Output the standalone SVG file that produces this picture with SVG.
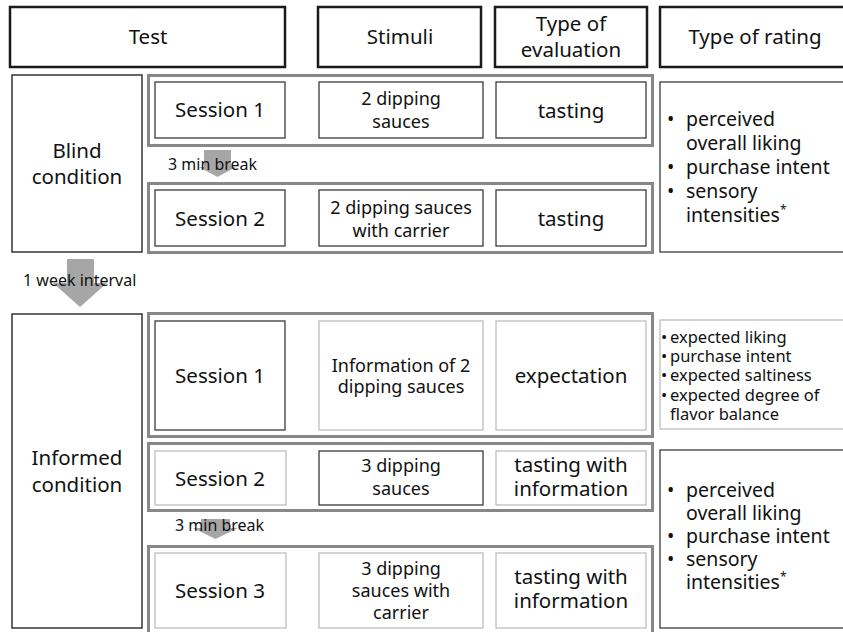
<svg xmlns="http://www.w3.org/2000/svg" width="843" height="632" viewBox="0 0 843 632">
<style>
text{font-family:"Noto Sans","Open Sans","Liberation Sans",sans-serif;fill:#111;}
.h{fill:#fff;stroke:#1a1a1a;stroke-width:2.5;}
.c{fill:#fff;stroke:#333;stroke-width:1.5;}
.o{fill:#fff;stroke:#888;stroke-width:3;}
.d{fill:#fff;stroke:#3a3a3a;stroke-width:1.3;}
.l{fill:#fff;stroke:#bdbdbd;stroke-width:1.3;}
.t20{font-size:20.5px;text-anchor:middle;}
.t19{font-size:18px;text-anchor:middle;}
.r{font-size:19.5px;}
.s{font-size:16.5px;}
.b{font-size:16px;}
.arr{fill:#a6a6a6;}
</style>
<g id="header-test"><rect class="h" x="10" y="7" width="275" height="60"/><text class="t20" x="148" y="44">Test</text></g>
<g id="header-stimuli"><rect class="h" x="318" y="7" width="163" height="60"/><text class="t20" x="400" y="44">Stimuli</text></g>
<g id="header-eval"><rect class="h" x="495" y="7" width="152" height="60"/><text class="t20"><tspan x="571" y="31">Type of</tspan><tspan x="571" y="57">evaluation</tspan></text></g>
<g id="header-rating"><rect class="h" x="660" y="7" width="200" height="60"/><text class="t20" x="755" y="44">Type of rating</text></g>

<g id="blind"><rect class="c" x="12" y="75" width="130" height="177"/><text class="t20"><tspan x="77" y="158">Blind</tspan><tspan x="77" y="184">condition</tspan></text></g>

<g id="blind-s1">
<rect class="o" x="148.5" y="75.5" width="504" height="70"/>
<rect class="d" x="155" y="82" width="130" height="56"/><text class="t20" x="220" y="117">Session 1</text>
<rect class="d" x="319" y="82" width="164" height="56"/><text class="t19"><tspan x="401" y="105">2 dipping</tspan><tspan x="401" y="128">sauces</tspan></text>
<rect class="d" x="496" y="82" width="150" height="56"/><text class="t20" x="571" y="118">tasting</text>
</g>
<g id="blind-s2">
<rect class="o" x="148.5" y="183.5" width="504" height="69"/>
<rect class="d" x="155" y="190" width="130" height="56"/><text class="t20" x="220" y="226">Session 2</text>
<rect class="d" x="319" y="190" width="164" height="56"/><text class="t19"><tspan x="401" y="214">2 dipping sauces</tspan><tspan x="401" y="237">with carrier</tspan></text>
<rect class="d" x="496" y="190" width="150" height="56"/><text class="t20" x="571" y="226">tasting</text>
</g>
<g id="blind-rating"><rect class="d" x="660" y="82" width="200" height="170"/>
<text class="r"><tspan x="667" y="126">•</tspan><tspan x="686" y="126">perceived</tspan><tspan x="686" y="150">overall liking</tspan><tspan x="667" y="174">•</tspan><tspan x="686" y="174">purchase intent</tspan><tspan x="667" y="198">•</tspan><tspan x="686" y="198">sensory</tspan><tspan x="686" y="222">intensities</tspan><tspan font-size="12" dy="-8">*</tspan></text>
</g>

<g id="informed"><rect class="c" x="12" y="314" width="130" height="314"/><text class="t20"><tspan x="77" y="465">Informed</tspan><tspan x="77" y="492">condition</tspan></text></g>

<g id="informed-s1">
<rect class="o" x="148.5" y="313.5" width="504" height="123"/>
<rect class="d" x="155" y="321" width="130" height="109"/><text class="t20" x="220" y="383">Session 1</text>
<rect class="l" x="319" y="321" width="164" height="109"/><text class="t19"><tspan x="401" y="372">Information of 2</tspan><tspan x="401" y="393">dipping sauces</tspan></text>
<rect class="l" x="496" y="321" width="150" height="109"/><text class="t20" x="571" y="383">expectation</text>
</g>
<g id="informed-rating-1"><rect class="l" x="660" y="320" width="200" height="109"/>
<text class="s"><tspan x="661" y="343">•</tspan><tspan x="670" y="343">expected liking</tspan><tspan x="661" y="362">•</tspan><tspan x="670" y="362">purchase intent</tspan><tspan x="661" y="381">•</tspan><tspan x="670" y="381">expected saltiness</tspan><tspan x="661" y="401">•</tspan><tspan x="670" y="401">expected degree of</tspan><tspan x="670" y="420">flavor balance</tspan></text>
</g>
<g id="informed-s2">
<rect class="o" x="148.5" y="443.5" width="504" height="67"/>
<rect class="l" x="155" y="451" width="131" height="54"/><text class="t20" x="220" y="486">Session 2</text>
<rect class="d" x="319" y="451" width="164" height="54"/><text class="t19"><tspan x="401" y="472">3 dipping</tspan><tspan x="401" y="495">sauces</tspan></text>
<rect class="l" x="496" y="451" width="150" height="54"/><text class="t20"><tspan x="571" y="472">tasting with</tspan><tspan x="571" y="496">information</tspan></text>
</g>
<g id="informed-s3">
<rect class="o" x="148.5" y="546.5" width="504" height="90"/>
<rect class="l" x="155" y="553" width="131" height="75"/><text class="t20" x="220" y="598">Session 3</text>
<rect class="l" x="319" y="553" width="164" height="75"/><text class="t19"><tspan x="401" y="575">3 dipping</tspan><tspan x="401" y="597">sauces with</tspan><tspan x="401" y="619">carrier</tspan></text>
<rect class="l" x="496" y="553" width="150" height="75"/><text class="t20"><tspan x="571" y="584">tasting with</tspan><tspan x="571" y="608">information</tspan></text>
</g>
<g id="informed-rating-2"><rect class="d" x="660" y="450" width="200" height="178"/>
<text class="r"><tspan x="667" y="497">•</tspan><tspan x="686" y="497">perceived</tspan><tspan x="686" y="520">overall liking</tspan><tspan x="667" y="543">•</tspan><tspan x="686" y="543">purchase intent</tspan><tspan x="667" y="566">•</tspan><tspan x="686" y="566">sensory</tspan><tspan x="686" y="589">intensities</tspan><tspan font-size="12" dy="-8">*</tspan></text>
</g>

<g id="connectors">
<polygon class="arr" points="204,150 231,150 231,167 236,167 217.5,177 199,167 204,167"/>
<text class="b" x="168" y="170">3 min break</text>
<polygon class="arr" points="67,259 94,259 94,283 107,283 80,307 53,283 67,283"/>
<text class="b" x="23" y="286">1 week interval</text>
<polygon class="arr" points="201,519 230,519 230,528 238,528 215.5,539 193,528 201,528"/>
<text class="b" x="175" y="531">3 min break</text>
</g>
</svg>
